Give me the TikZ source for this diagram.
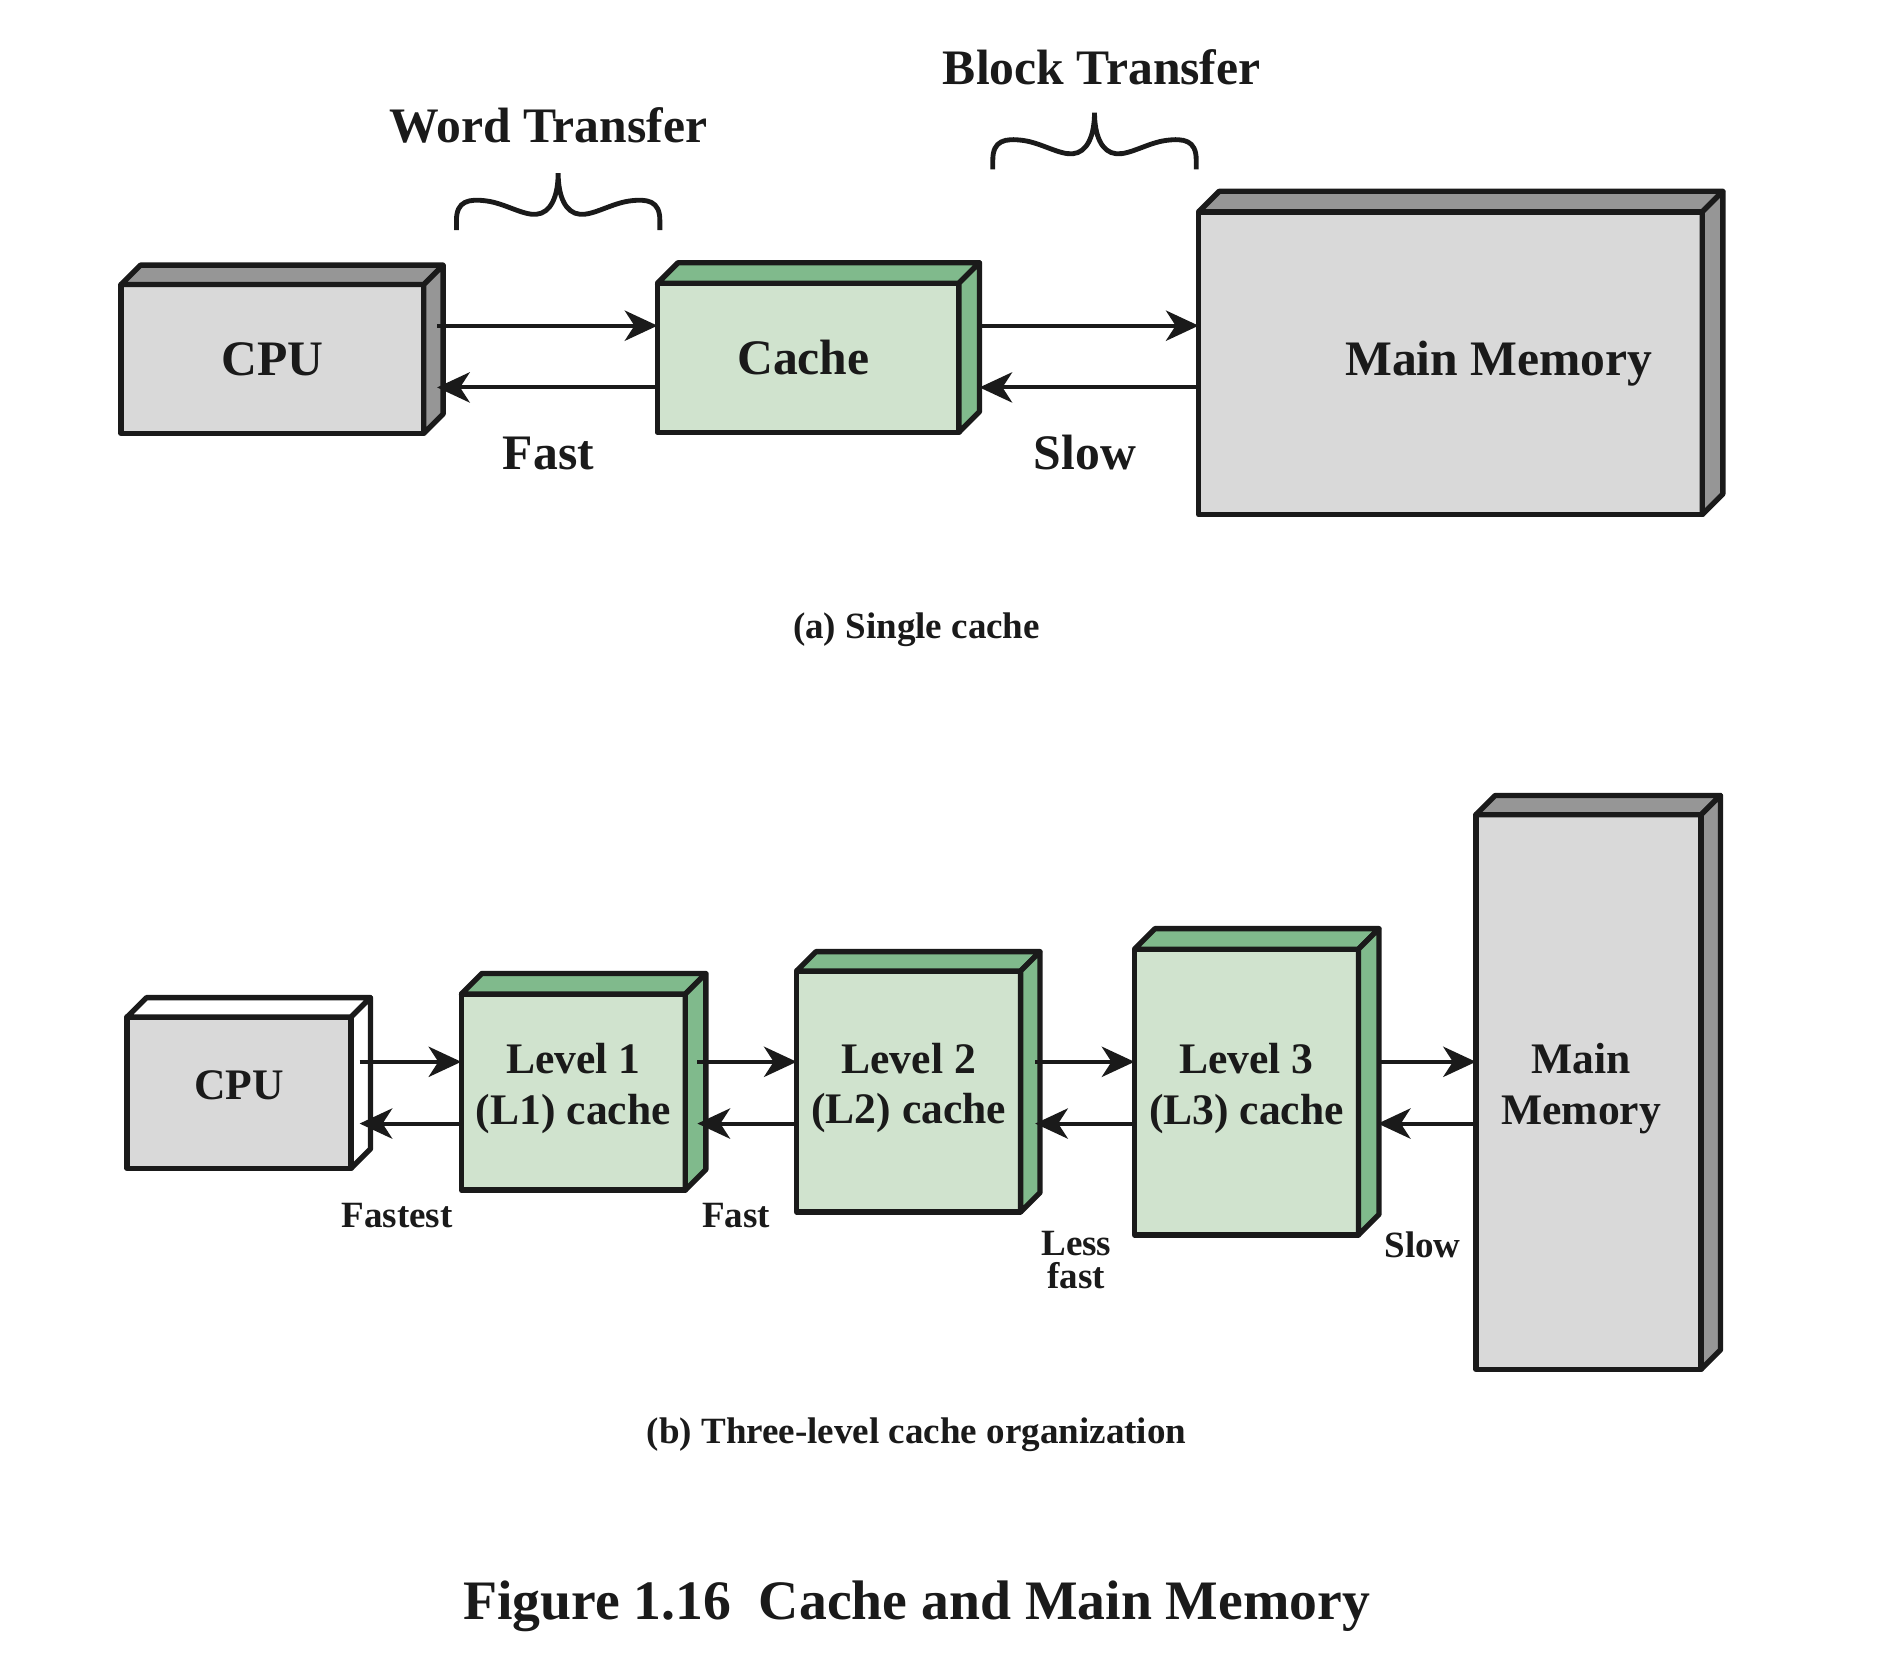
\documentclass[tikz,border=0pt]{standalone}
\usepackage{fontspec}
\setmainfont{Liberation Serif}
\usetikzlibrary{arrows.meta}
\definecolor{ink}{RGB}{26,26,26}
\definecolor{fgray}{RGB}{217,217,217}
\definecolor{tgray}{RGB}{150,150,150}
\definecolor{fgreen}{RGB}{208,227,206}
\definecolor{tgreen}{RGB}{128,186,140}
\newcommand\boxfaces[4]{%
  \draw[face,fill=#3] (#1.north west) -- ++(#2,-#2) -- ([shift={(#2,-#2)}]#1.north east) -- (#1.north east) -- cycle;
  \draw[face,fill=#4] (#1.north east) -- ++(#2,-#2) -- ([shift={(#2,-#2)}]#1.south east) -- (#1.south east) -- cycle;
}
\newcommand\braceshape{%
  (0,0) -- (0,-8) .. controls (0,-24) and (10,-26) .. (25,-24)
  .. controls (40,-22) and (55,-12) .. (66,-13)
  .. controls (78,-14) and (84,-28) .. (84,-47)
  .. controls (84,-28) and (90,-14) .. (102,-13)
  .. controls (113,-12) and (128,-22) .. (143,-24)
  .. controls (158,-26) and (168,-24) .. (168,-8) -- (168,0)}
\begin{document}
\begin{tikzpicture}[x=0.5pt,y=-0.5pt,
  face/.style={draw=ink,line width=2.2pt,line join=round},
  front/.style={face,inner sep=0pt,outer sep=0pt},
  bigf/.style={font=\bfseries\fontsize{20.5}{24}\selectfont},
  midf/.style={font=\bfseries\fontsize{18}{20.8}\selectfont},
  smallf/.style={font=\bfseries\fontsize{15.3}{13.5}\selectfont},
  lbl/.style={text=ink,inner sep=0pt,align=center},
  arr/.style={draw=ink,line width=1.65pt,-{Stealth[length=13.5pt,width=12.5pt,inset=4pt]}},
  brace/.style={draw=ink,line width=2pt}
]
\useasboundingbox (0,0) rectangle (1566,1384);

% ---------- (a) single cache ----------
\node[front,fill=fgray,minimum width=125pt,minimum height=61.5pt] (cpuA) at (225,296.5) {};
\boxfaces{cpuA}{16}{tgray}{tgray}
\node[lbl,bigf] (cpuAtext) at (cpuA.center) {CPU};
\node[front,fill=fgreen,minimum width=124.5pt,minimum height=61.5pt] (cacheA) at (667.5,295.5) {};
\boxfaces{cacheA}{17}{tgreen}{tgreen}
\node[lbl,bigf] (cacheAtext) at ([xshift=-2pt]cacheA.center) {Cache};
\node[front,fill=fgray,minimum width=208pt,minimum height=125pt] (memA) at (1198,300) {};
\boxfaces{memA}{17}{tgray}{tgray}
\node[lbl,bigf,anchor=base] (memAtext) at (1238,310) {Main Memory};

\coordinate (a1s) at ([xshift=5.5pt]cpuA.east);
\coordinate (a2s) at ([xshift=8.5pt]cacheA.east);
\draw[arr] (a1s |- 0,269) -- (cacheA.west |- 0,269);
\draw[arr] (cacheA.west |- 0,320) -- (a1s |- 0,320);
\draw[arr] (a2s |- 0,269) -- (memA.west |- 0,269);
\draw[arr] (memA.west |- 0,320) -- (a2s |- 0,320);

\node[lbl,bigf,anchor=base] (fastA) at (453,388) {Fast};
\node[lbl,bigf,anchor=base] (slowA) at (896,388) {Slow};
\node[lbl,bigf,anchor=base] (word) at (453,118) {Word Transfer};
\node[lbl,bigf,anchor=base] (block) at (910,70) {Block Transfer};
\begin{scope}[shift={(377,190)}]
  \draw[brace] \braceshape;
\end{scope}
\begin{scope}[shift={(820,140)}]
  \draw[brace] \braceshape;
\end{scope}
\node[lbl,smallf,anchor=base] (capA) at (757,527) {(a) Single cache};

% ---------- (b) three-level ----------
\node[front,fill=fgray,minimum width=92.5pt,minimum height=62.5pt] (cpuB) at (197.5,902.5) {};
\boxfaces{cpuB}{16}{white}{white}
\node[lbl,midf] (cpuBtext) at ([yshift=3pt]cpuB.center) {CPU};
\node[front,fill=fgreen,minimum width=92.5pt,minimum height=81pt] (l1) at (473.5,902) {};
\boxfaces{l1}{17}{tgreen}{tgreen}
\node[lbl,midf] (l1text) at ([yshift=1.5pt]l1.center) {Level 1\\(L1) cache};
\node[front,fill=fgreen,minimum width=92.5pt,minimum height=99.5pt] (l2) at (750.5,901.5) {};
\boxfaces{l2}{16}{tgreen}{tgreen}
\node[lbl,midf] (l2text) at ([yshift=1.5pt]l2.center) {Level 2\\(L2) cache};
\node[front,fill=fgreen,minimum width=92.5pt,minimum height=118pt] (l3) at (1029.5,902) {};
\boxfaces{l3}{17}{tgreen}{tgreen}
\node[lbl,midf] (l3text) at ([yshift=1.5pt]l3.center) {Level 3\\(L3) cache};
\node[front,fill=fgray,minimum width=93pt,minimum height=229pt] (memB) at (1312,902) {};
\boxfaces{memB}{16}{tgray}{tgray}
\node[lbl,midf] (memBtext) at ([xshift=-3pt,yshift=1.5pt]memB.center) {Main\\Memory};

\coordinate (b1s) at ([xshift=3.5pt]cpuB.east);
\coordinate (b2s) at ([xshift=5pt]l1.east);
\coordinate (b3s) at ([xshift=6pt]l2.east);
\coordinate (b4s) at ([xshift=8pt]l3.east);
\draw[arr] (b1s |- 0,877) -- (l1.west |- 0,877);
\draw[arr] (l1.west |- 0,928) -- (b1s |- 0,928);
\draw[arr] (b2s |- 0,877) -- (l2.west |- 0,877);
\draw[arr] (l2.west |- 0,928) -- (b2s |- 0,928);
\draw[arr] (b3s |- 0,877) -- (l3.west |- 0,877);
\draw[arr] (l3.west |- 0,928) -- (b3s |- 0,928);
\draw[arr] (b4s |- 0,877) -- (memB.west |- 0,877);
\draw[arr] (memB.west |- 0,928) -- (b4s |- 0,928);

\node[lbl,smallf,anchor=base] (fastest) at (328,1014) {Fastest};
\node[lbl,smallf,anchor=base] (fastB) at (608,1014) {Fast};
\node[lbl,smallf] (lessfast) at (889,1041) {Less\\fast};
\node[lbl,smallf,anchor=base] (slowB) at (1175,1039) {Slow};
\node[lbl,smallf,anchor=base] (capB) at (757,1192) {(b) Three-level cache organization};

\node[lbl,font=\bfseries\fontsize{23}{27}\selectfont,anchor=base] (title) at (757,1338) {Figure 1.16~~Cache and Main Memory};
\end{tikzpicture}
\end{document}
